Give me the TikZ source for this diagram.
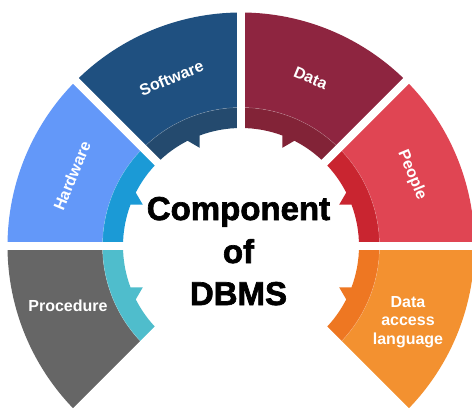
\documentclass[tikz,border=0pt]{standalone}
\usepackage{fontspec}
\setmainfont{Liberation Sans}
\newfontfamily\heavyfont{Liberation Sans}[BoldFeatures={FakeBold=2}]
\definecolor{softmain}{HTML}{1F5080}
\definecolor{softband}{HTML}{244A6E}
\definecolor{datamain}{HTML}{8E2540}
\definecolor{databand}{HTML}{822337}
\definecolor{peoplemain}{HTML}{E04553}
\definecolor{peopleband}{HTML}{C92530}
\definecolor{dalmain}{HTML}{F39130}
\definecolor{dalband}{HTML}{EE7722}
\definecolor{procmain}{HTML}{666666}
\definecolor{procband}{HTML}{4FBDCC}
\definecolor{hardmain}{HTML}{6398F9}
\definecolor{hardband}{HTML}{1B9AD6}
\def\rI{118pt}
\def\rM{138.5pt}
\def\rO{233.5pt}
\newcommand\compseg[4]{%
  \pgfmathsetmacro\segB{#1+#2*45}%
  \pgfmathsetmacro\segF{#1+#2*20.47}%
  \pgfmathsetmacro\segT{#1+#2*22.8}%
  \pgfmathsetmacro\segS{#1+#2*26.9}%
  \fill[#3] (#1:\rM) arc[start angle=#1, end angle=\segB, radius=\rM] -- (\segB:\rO)
     arc[start angle=\segB, end angle=#1, radius=\rO] -- cycle;
  \fill[#4] (#1:\rM) arc[start angle=#1, end angle=\segB, radius=\rM] -- (\segB:\rI)
     arc[start angle=\segB, end angle=\segS, radius=\rI] -- (\segT:106.5pt) -- (\segF:\rI)
     arc[start angle=\segF, end angle=#1, radius=\rI] -- cycle;
  \draw[white, opacity=0.25, line width=0.5pt] (#1:\rM) arc[start angle=#1, end angle=\segB, radius=\rM];
}
\tikzset{
  seglabel/.style={text=white, font=\bfseries\fontsize{16}{18.5}\selectfont, align=center, inner sep=0pt},
  centerlabel/.style={text=black, font=\heavyfont\bfseries\fontsize{33}{40}\selectfont, inner sep=0pt, anchor=base},
  gapline/.style={white, line width=8pt}
}
\begin{document}
\begin{tikzpicture}
\useasboundingbox (-241pt,-162pt) rectangle (231pt,246pt);
\fill[white] (-241pt,-162pt) rectangle (231pt,246pt);
\compseg{90}{1}{softmain}{softband}
\compseg{90}{-1}{datamain}{databand}
\compseg{0}{1}{peoplemain}{peopleband}
\compseg{0}{-1}{dalmain}{dalband}
\compseg{180}{1}{procmain}{procband}
\compseg{180}{-1}{hardmain}{hardband}
\foreach \ga in {0,45,90,135,180,225,315}{
  \draw[gapline] (0,0) -- (\ga:250pt);
}
\node[seglabel, rotate=22.5] (software) at (112.5:182pt) {Software};
\node[seglabel, rotate=-22.5] (data) at (67.5:182pt) {Data};
\node[seglabel, rotate=67.5] (hardware) at (157.5:183pt) {Hardware};
\node[seglabel, rotate=-67.5] (people) at (22.5:185pt) {People};
\node[seglabel] (procedure) at (-173pt,-60pt) {Procedure};
\node[seglabel] (dal) at (167pt,-76pt) {Data\\access\\language};
\node[centerlabel] (comp) at (-2.5pt,26pt) {Component};
\node[centerlabel] (of) at (-2.5pt,-17pt) {of};
\node[centerlabel] (dbms) at (-2.5pt,-59pt) {DBMS};
\end{tikzpicture}
\end{document}
